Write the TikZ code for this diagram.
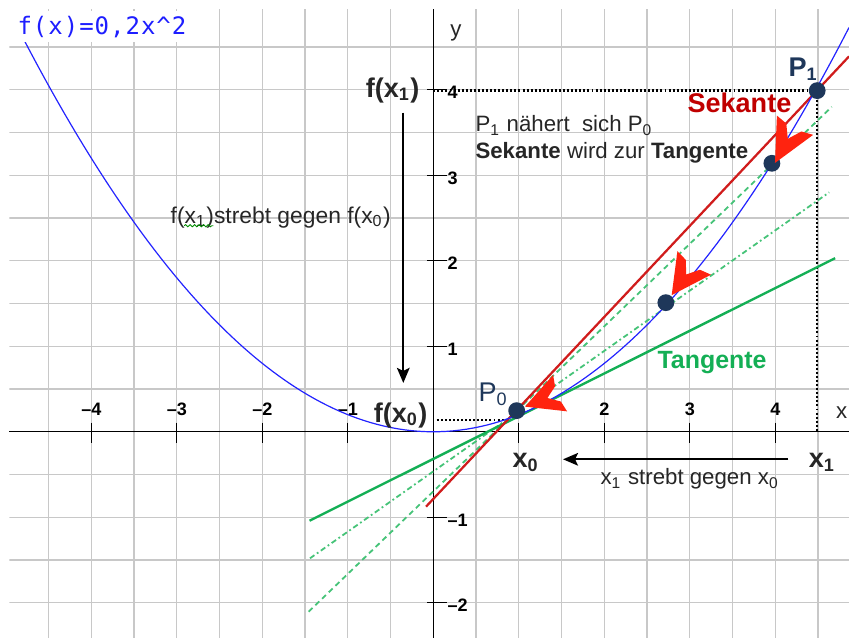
\documentclass[tikz,border=0pt]{standalone}
\usepackage{fontspec}
\setmainfont{Liberation Sans}
\newfontfamily\formulafont[LetterSpace=4]{DejaVu Sans Mono}
\usepackage{tikz}
\usetikzlibrary{arrows.meta,positioning,calc,decorations.pathmorphing}
\definecolor{gridgray}{RGB}{200,200,200}
\definecolor{curveblue}{RGB}{35,35,255}
\definecolor{formulablue}{RGB}{30,30,255}
\definecolor{secantred}{RGB}{208,28,28}
\definecolor{labelred}{RGB}{192,0,0}
\definecolor{tangentgreen}{RGB}{20,175,85}
\definecolor{lightgreen}{RGB}{70,195,120}
\definecolor{dotnavy}{RGB}{30,55,90}
\definecolor{chevronred}{RGB}{255,35,15}
\definecolor{textdark}{RGB}{38,38,38}

\begin{document}
\begin{tikzpicture}[
        font=\fontsize{7.4}{9}\selectfont,
        every node/.style={inner sep=0pt, text=textdark},
        gridline/.style={gridgray, line width=0.45pt},
        axisline/.style={black, line width=0.45pt},
        parabola/.style={curveblue, line width=0.4pt},
        secantline/.style={secantred, line width=0.75pt},
        tangentline/.style={tangentgreen, line width=0.8pt},
        auxline/.style={lightgreen, line width=0.6pt, dash pattern=on 1.8pt off 1.3pt},
        auxdashdot/.style={lightgreen, line width=0.6pt, dash pattern=on 1.8pt off 1pt on 0.6pt off 1pt},
        guideline/.style={black, line width=0.75pt, dash pattern=on 0.65pt off 0.7pt},
        ptdot/.style={circle, fill=dotnavy, minimum size=5.6pt},
        arrow/.style={-{Stealth[length=5pt, width=4.2pt, inset=1pt]}, line width=0.7pt},
        biglabel/.style={font=\fontsize{9}{10}\selectfont\bfseries},
        ticklabel/.style={font=\fontsize{6}{7}\selectfont\bfseries, text=black},
        formula/.style={font=\formulafont\fontsize{8}{9}\selectfont, text=formulablue, fill=white, inner xsep=1.3pt, inner ysep=1.5pt},
        chevron/.pic={\fill[chevronred] (0,0) -- (0.5,0.24) -- (0.47,0.1) -- (0.32,0) -- (0.47,-0.1) -- (0.5,-0.24) -- cycle;}
        ]
    \useasboundingbox (-5.068,-2.412) rectangle (4.862,5.050);
    \begin{scope}
        \clip (-4.959,-2.412) rectangle (4.862,4.942);
        \draw[gridline, step=0.5] (-5,-2.5) grid (5,5);
    \end{scope}
    \draw[axisline] (-4.959,0) -- (4.862,0);
    \draw[axisline] (0,-2.412) -- (0,4.942);
    \foreach \x in {-4,-3,-2,-1,1,2,3,4} \draw[axisline] (\x,0.107) -- (\x,-0.134);
    \foreach \y in {-2,-1,1,2,3,4} \draw[axisline] (-0.07,\y) -- (0.16,\y);
    \foreach \x in {-4,-3,-2,-1} \node[ticklabel, anchor=base] (xl\x) at (\x,0.185) {\textendash\the\numexpr-\x\relax};
    \foreach \x in {2,3,4} \node[ticklabel, anchor=base] (xl\x) at (\x,0.185) {\x};
    \foreach \y in {1,2,3,4} \node[ticklabel, anchor=west] (yl\y) at (0.16,\y-0.03) {\y};
    \foreach \y in {-1,-2} \node[ticklabel, anchor=west] (yl\y) at (0.16,\y-0.03) {\textendash\the\numexpr-\y\relax};
    \node (xname) at (4.777,0.22) {x};
    \node (yname) at (0.264,4.67) {y};

    \coordinate (pnull) at (0.975,0.247);
    \coordinate (qzwei) at (2.72,1.51);
    \coordinate (qeins) at (3.96,3.14);
    \coordinate (peins) at (4.49,3.99);
    \coordinate (cross) at (0.88,0.138);

    \draw[guideline] (0,0 |- peins) -- (peins) -- (peins |- 0,0);
    \draw[guideline] (0.04,0.138) -- (cross);

    \draw[auxline] (-1.458,-2.104) -- (4.66,3.80);
    \draw[auxdashdot] (-1.442,-1.48) -- (4.63,2.80);
    \draw[tangentline] (-1.447,-1.04) -- (4.70,2.03);
    \draw[secantline] (-0.085,-0.876) -- (4.862,4.39);
    \draw[parabola] plot[domain=-4.8:4.862, samples=120] (\x,{0.2*\x*\x});

    \node[ptdot] (Pnull) at (pnull) {};
    \node[ptdot] (Qzwei) at (qzwei) {};
    \node[ptdot] (Qeins) at (qeins) {};
    \node[ptdot] (Peins) at (peins) {};

    \pic[rotate=62] at (3.996,3.144) {chevron};
    \pic[rotate=55, xscale=0.92] at (2.788,1.598) {chevron};
    \pic[rotate=21, xscale=0.88, yscale=0.95] at (1.072,0.294) {chevron};

    \node[formula, anchor=base west] (formel) at (-4.915,4.65) {f(x)=0,2x\textasciicircum2};

    \node[biglabel, anchor=east] (fxeins) at (-0.156,3.99) {f(x\textsubscript{1})};
    \node[biglabel, anchor=east] (fxnull) at (-0.062,0.19) {f(x\textsubscript{0})};
    \node[biglabel, anchor=base west] (xnull) at (0.92,-0.423) {x\textsubscript{0}};
    \node[biglabel, anchor=base west] (xeins) at (4.385,-0.423) {x\textsubscript{1}};
    \node[biglabel, anchor=base west, text=dotnavy] (Peinslabel) at (4.148,4.15) {P\textsubscript{1}};
    \node[biglabel, font=\fontsize{9}{10}\selectfont, anchor=base west, text=dotnavy] (Pnulllabel) at (0.522,0.349) {P\textsubscript{0}};
    \node[font=\fontsize{9}{10}\selectfont\bfseries, anchor=base west, text=labelred] (sekante) at (2.967,3.729) {Sekante};
    \node[font=\fontsize{8.3}{10}\selectfont\bfseries, anchor=base west, text=tangentgreen] (tangente) at (2.616,0.743) {Tangente};

    \node[anchor=base west] (naehert) at (0.487,3.51) {P\textsubscript{1} nähert~ sich P\textsubscript{0}};
    \node[anchor=base west] (wird) at (0.487,3.199) {\textbf{Sekante} wird zur \textbf{Tangente}};
    \node[font=\fontsize{7.6}{9}\selectfont, anchor=base west] (fstrebt) at (-3.079,2.439) {f(x\textsubscript{1})strebt gegen f(x\textsubscript{0})};
    \draw[green!55!black, line width=0.3pt, decorate, decoration={snake, amplitude=0.35pt, segment length=1.5pt}] (-2.914,2.41) -- (-2.573,2.41);
    \node[anchor=base west] (xstrebt) at (1.95,-0.622) {x\textsubscript{1} strebt gegen x\textsubscript{0}};

    \coordinate (vstart) at (-0.351,3.733);
    \coordinate (vend) at (-0.351,0.571);
    \coordinate (hstart) at (4.152,-0.322);
    \coordinate (hend) at (1.517,-0.322);
    \draw[arrow] (vstart) -- (vend);
    \draw[arrow] (hstart) -- (hend);
\end{tikzpicture}
\end{document}
